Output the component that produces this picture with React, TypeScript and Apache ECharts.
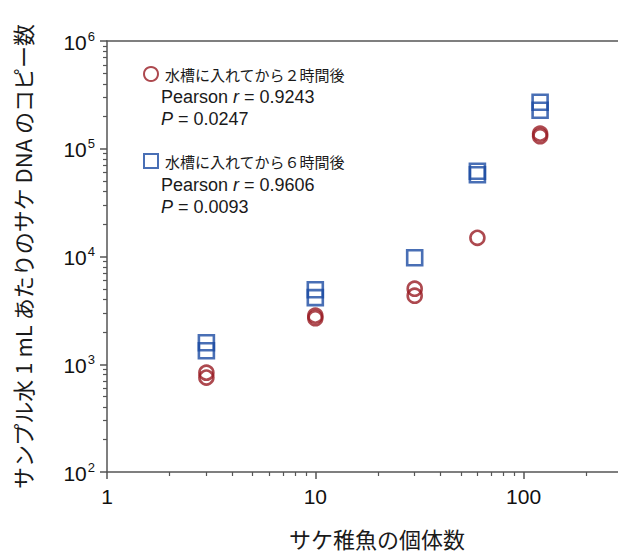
import React, { useEffect, useRef } from "react";
import * as echarts from "echarts";

// Data
const twoHourFish = [3, 3, 10, 10, 30, 30, 60, 120, 120];
const twoHourCopies = [835, 752, 2825, 2675, 5025, 4325, 14900, 138000, 130700];
const sixHourFish = [3, 3, 10, 10, 30, 60, 60, 120, 120];
const sixHourCopies = [1585, 1336, 4920, 4150, 9750, 61900, 57400, 270000, 228000];

const seriesNames = ["水槽に入れてから２時間後", "水槽に入れてから６時間後"];
const pearsonR = ["0.9243", "0.9606"];
const pValues = ["0.0247", "0.0093"];

const xTitle = "サケ稚魚の個体数";
const yTitle = "サンプル水 1 mL あたりのサケ DNA のコピー数";

const RED = "#981c23";
const BLUE = "#1c4ba3";
const AXIS = "#555555";
const FONT = '"Liberation Sans", "Noto Sans CJK JP", sans-serif';
const JP = '"Noto Sans CJK JP", "Liberation Sans", sans-serif';

export default function App() {
  const ref = useRef<HTMLDivElement>(null);
  useEffect(() => {
    if (!ref.current) return;
    const chart = echarts.init(ref.current, null, { renderer: "svg" });
    const statText = (i: number) =>
      `{n|Pearson }{i|r}{n| = ${pearsonR[i]}}\n{i|P}{n| = ${pValues[i]}}`;
    const statRich = {
      n: { fontSize: 18, fontFamily: FONT, fill: "#1a1a1a", lineHeight: 22 },
      i: { fontSize: 18, fontFamily: FONT, fill: "#1a1a1a", lineHeight: 22, fontStyle: "italic" },
    };
    chart.setOption({
      animation: false,
      backgroundColor: "#ffffff",
      grid: { left: 107, right: -5, top: 41, bottom: 85, containLabel: false, outerBoundsMode: "none" },
      legend: {
        orient: "vertical",
        left: 138,
        top: 61,
        itemWidth: 14,
        itemHeight: 14,
        itemGap: 71,
        data: seriesNames,
        textStyle: { fontSize: 15, fontFamily: JP, color: "#1a1a1a", padding: [0, 0, 0, 2] },
      },
      graphic: [
        { type: "text", left: 161, top: 88, style: { text: statText(0), rich: statRich } },
        { type: "text", left: 161, top: 176, style: { text: statText(1), rich: statRich } },
      ],
      xAxis: [
        {
          type: "log",
          logBase: 10,
          min: 1,
          max: 300,
          name: xTitle,
          nameLocation: "middle",
          nameGap: 55,
          nameTextStyle: { fontSize: 22, fontFamily: JP, color: "#1a1a1a", padding: [0, 0, 0, 24] },
          axisLine: { lineStyle: { color: AXIS, width: 1.5 } },
          axisTick: { length: 7, lineStyle: { color: AXIS, width: 1.5 } },
          minorTick: { show: true, splitNumber: 9, length: 4, lineStyle: { color: AXIS, width: 1.2 } },
          splitLine: { show: false },
          minorSplitLine: { show: false },
          axisLabel: {
            fontSize: 21,
            fontFamily: FONT,
            color: "#111",
            margin: 14,
            formatter: (v: number) => {
              const e = Math.log10(v);
              return Math.abs(e - Math.round(e)) < 1e-6 ? String(Math.round(v)) : "";
            },
          },
        },
        {
          type: "value",
          position: "top",
          min: 0,
          max: 1,
          axisLine: { show: true, onZero: false, lineStyle: { color: AXIS, width: 1.5 } },
          axisTick: { show: false },
          axisLabel: { show: false },
          splitLine: { show: false },
        },
      ],
      yAxis: {
        type: "log",
        logBase: 10,
        min: 100,
        max: 1000000,
        name: yTitle,
        nameLocation: "middle",
        nameGap: 74,
        nameTextStyle: { fontSize: 22, fontFamily: JP, color: "#1a1a1a" },
        axisLine: { lineStyle: { color: AXIS, width: 1.5 } },
        axisTick: { length: 7, lineStyle: { color: AXIS, width: 1.5 } },
        minorTick: { show: true, splitNumber: 9, length: 4, lineStyle: { color: AXIS, width: 1.2 } },
        splitLine: { show: false },
        minorSplitLine: { show: false },
        axisLabel: {
          margin: 12,
          formatter: (v: number) => `{b|10}{s|${Math.round(Math.log10(v))}}`,
          rich: {
            b: { fontSize: 21, fontFamily: FONT, color: "#111", verticalAlign: "bottom" },
            s: { fontSize: 13, fontFamily: FONT, color: "#111", verticalAlign: "bottom", padding: [0, 0, 10, 1] },
          },
        },
      },
      series: [
        {
          name: seriesNames[0],
          type: "scatter",
          symbol: "circle",
          symbolSize: 14,
          itemStyle: { color: "rgba(255,255,255,0)", borderColor: RED, borderWidth: 2.6 },
          data: twoHourFish.map((x, i) => [x, twoHourCopies[i]]),
        },
        {
          name: seriesNames[1],
          type: "scatter",
          symbol: "rect",
          symbolSize: 15,
          itemStyle: { color: "rgba(255,255,255,0)", borderColor: BLUE, borderWidth: 2.6 },
          data: sixHourFish.map((x, i) => [x, sixHourCopies[i]]),
        },
      ],
    });
    return () => chart.dispose();
  }, []);
  return (
    <div
      ref={ref}
      style={{ position: "fixed", left: 0, top: 0, width: 618, height: 557, background: "#fff" }}
    />
  );
}
